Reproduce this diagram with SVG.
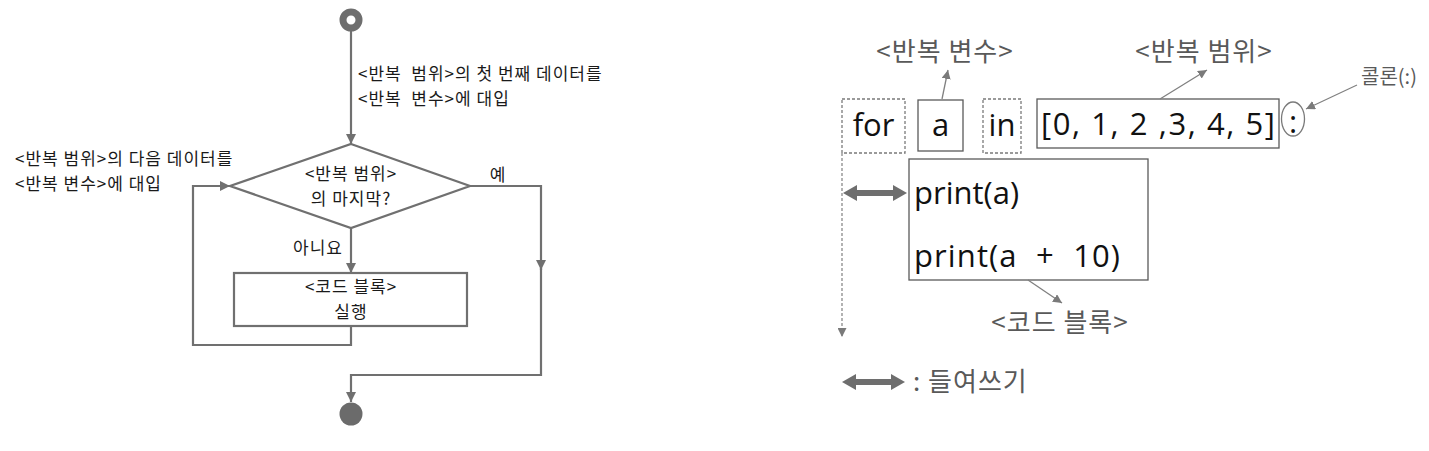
<svg xmlns="http://www.w3.org/2000/svg" width="1429" height="451" viewBox="0 0 1429 451">
<defs>
<style>
.ln{fill:none;stroke:#707070;stroke-width:2.2}
.kt{font-family:"Noto Sans CJK KR","Noto Sans",sans-serif;font-size:17px;letter-spacing:1px;fill:#1a1a1a}
.kc{text-anchor:middle}
.lab{font-family:"Noto Sans CJK KR","Noto Sans",sans-serif;font-size:26px;letter-spacing:1px;fill:#595959}
.code{font-family:"Open Sans","Noto Sans",sans-serif;font-size:31px;fill:#111}
.box{fill:none;stroke:#5a5a5a;stroke-width:1.3}
.dbox{fill:none;stroke:#7a7a7a;stroke-width:1.3;stroke-dasharray:3 2}
.thin{fill:none;stroke:#808080;stroke-width:1.3}
</style>
<marker id="ah" viewBox="0 0 10 10" refX="10" refY="5" markerWidth="10" markerHeight="10" markerUnits="userSpaceOnUse" orient="auto">
<path d="M0,0 L10,5 L0,10 z" fill="#707070"/>
</marker>
<marker id="as" viewBox="0 0 10 10" refX="10" refY="5" markerWidth="9" markerHeight="9" markerUnits="userSpaceOnUse" orient="auto">
<path d="M0,0 L10,5 L0,10 z" fill="#7a7a7a"/>
</marker>
</defs>
<rect width="1429" height="451" fill="#ffffff"/>

<g id="connectors">
<path class="ln" d="M351,31 V144" marker-end="url(#ah)"/>
<path class="ln" d="M351,228 V273" marker-end="url(#ah)"/>
<path class="ln" d="M351,326 V345 H193 V186 H230" marker-end="url(#ah)"/>
<path class="ln" d="M470,186 H541 V270" marker-end="url(#ah)"/>
<path class="ln" d="M541,268 V375 H351 V402" marker-end="url(#ah)"/>
</g>

<g id="start"><circle cx="351" cy="20" r="8" fill="none" stroke="#6e6e6e" stroke-width="7"/></g>
<g id="end"><circle cx="351" cy="414" r="11.5" fill="#6b6b6b"/></g>

<g id="decision">
<polygon points="351,144 470,186 351,228 230,186" fill="#ffffff" stroke="#707070" stroke-width="2.2"/>
<text class="kt kc"><tspan x="351" y="180">&lt;반복 범위&gt;</tspan><tspan x="351" y="205">의 마지막?</tspan></text>
</g>

<g id="block">
<rect x="234" y="273" width="233" height="53" fill="#ffffff" stroke="#707070" stroke-width="2.2"/>
<text class="kt kc"><tspan x="351" y="293">&lt;코드 블록&gt;</tspan><tspan x="351" y="318">실행</tspan></text>
</g>

<g id="flow-labels">
<text class="kt" xml:space="preserve"><tspan x="358" y="80">&lt;반복  범위&gt;의 첫 번째 데이터를</tspan><tspan x="358" y="105">&lt;반복  변수&gt;에 대입</tspan></text>
<text class="kt"><tspan x="15" y="165">&lt;반복 범위&gt;의 다음 데이터를</tspan><tspan x="15" y="190">&lt;반복 변수&gt;에 대입</tspan></text>
<text class="kt kc" x="498" y="181">예</text>
<text class="kt kc" x="318" y="254">아니요</text>
</g>

<g id="for-kw">
<rect class="dbox" x="842" y="99" width="63" height="54"/>
<text class="code" x="873.5" y="136" text-anchor="middle">for</text>
</g>
<g id="var-a">
<rect class="box" x="918" y="100" width="45" height="51"/>
<text class="code" x="940.5" y="136" text-anchor="middle">a</text>
</g>
<g id="in-kw">
<rect class="dbox" x="983" y="99" width="38" height="54"/>
<text class="code" x="1002" y="136" text-anchor="middle">in</text>
</g>
<g id="range">
<rect class="box" x="1037" y="99" width="242" height="49"/>
<text class="code" x="1041" y="135" textLength="234" lengthAdjust="spacing">[0, 1, 2 ,3, 4, 5]</text>
</g>
<g id="colon">
<ellipse cx="1293" cy="119" rx="11.5" ry="17" fill="none" stroke="#7a7a7a" stroke-width="1.3"/>
<text class="code" x="1293" y="133" text-anchor="middle">:</text>
</g>
<g id="code-block">
<rect class="box" x="909" y="159" width="239" height="121"/>
<text class="code" x="914" y="204">print(a)</text>
<text class="code" x="914" y="267" xml:space="preserve" textLength="206" lengthAdjust="spacing">print(a  +  10)</text>
</g>

<g id="annotations">
<path class="thin" d="M942,99 L948,70" marker-end="url(#as)"/>
<path class="thin" d="M1160,99 L1207,70" marker-end="url(#as)"/>
<path class="thin" d="M1357,85 L1306,109" marker-end="url(#as)"/>
<path class="thin" d="M1028,280 L1062,303" marker-end="url(#as)"/>
<path fill="none" stroke="#8a8a8a" stroke-width="1.3" stroke-dasharray="3 2" d="M842,153 V337" marker-end="url(#as)"/>
<polygon points="843,193 857,185 857,190 893,190 893,185 907,193 893,201 893,196 857,196 857,201" fill="#6e6e6e"/>
<polygon points="842,382 856,374 856,379 891,379 891,374 905,382 891,390 891,385 856,385 856,390" fill="#6e6e6e"/>
</g>

<g id="labels">
<text class="lab" x="945" y="61" text-anchor="middle">&lt;반복 변수&gt;</text>
<text class="lab" x="1204" y="61" text-anchor="middle">&lt;반복 범위&gt;</text>
<text class="lab" x="1389" y="84" text-anchor="middle" style="font-size:20px;letter-spacing:0">콜론(:)</text>
<text class="lab" x="1060" y="332" text-anchor="middle">&lt;코드 블록&gt;</text>
<text class="lab" x="913" y="391">: 들여쓰기</text>
</g>
</svg>
